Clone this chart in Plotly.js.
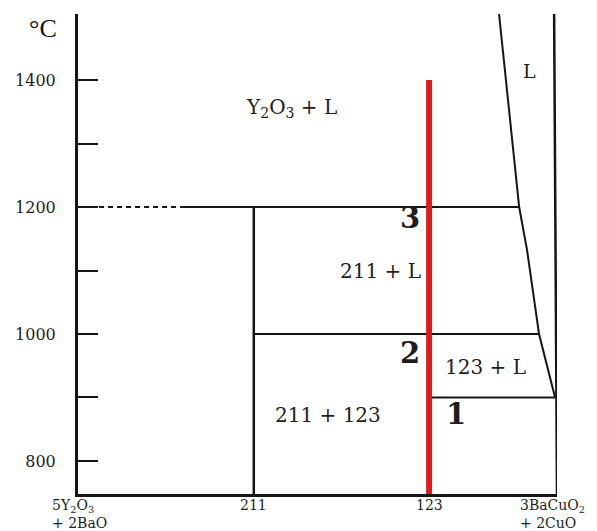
<!DOCTYPE html>
<html>
<head>
<meta charset="utf-8">
<script src="https://cdn.plot.ly/plotly-3.0.1.min.js"></script>
<style>
  html, body { margin: 0; padding: 0; background: #fff; }
  #chart { width: 597px; height: 531px; }
</style>
</head>
<body>
<div id="chart"></div>
<script>
// Temperature axis (°C)
const tempTicks = [800, 900, 1000, 1100, 1200, 1300, 1400];
const tempLabels = ['800', '', '1000', '', '1200', '', '1400'];
const tempMin = 748;
const tempMax = 1504;

// Composition axis: 5Y2O3+2BaO (0) ... 3BaCuO2+2CuO (1)
const compPos = [0, 0.367, 0.733, 1.0];
const compLine1 = ['5Y<sub>2</sub>O<sub>3</sub>', '211', '123', '3BaCuO<sub>2</sub>'];
const compLine2 = ['+ 2BaO', '', '', '+ 2CuO'];

// Liquidus boundary on the CuO-rich side
const liquidusX = [0.879, 0.921, 0.9375, 0.9625, 0.996];
const liquidusT = [1504, 1200, 1132, 1000, 900];

// Invariant temperatures
const tY2O3 = 1200;      // Y2O3 + L -> 211 + L
const t211 = 1000;       // 211 + L -> 123
const t123 = 900;        // 123 + L solidus
const tDotEnd = [0.044, 0.219]; // dotted part of the 1200 isotherm

// Sample composition path (123) heated up to
const pathTop = 1400;

const black = '#151515';

function seg(x, y, extra) {
  return Object.assign({
    x: x, y: y, type: 'scatter', mode: 'lines',
    line: { color: black, width: 2 }, hoverinfo: 'skip',
    showlegend: false, cliponaxis: false
  }, extra || {});
}

const traces = [
  // 1200 isotherm: dotted then solid up to the liquidus
  seg(tDotEnd, [tY2O3, tY2O3], { line: { color: black, width: 2, dash: '5px,4px' } }),
  seg([tDotEnd[1], liquidusX[1]], [tY2O3, tY2O3]),
  // 211 composition line
  seg([compPos[1], compPos[1]], [tempMin, tY2O3], { line: { color: black, width: 2.5 } }),
  // 1000 isotherm
  seg([compPos[1], liquidusX[3]], [t211, t211]),
  // 900 isotherm
  seg([compPos[2], liquidusX[4]], [t123, t123]),
  // liquidus
  seg(liquidusX, liquidusT),
  // right-hand composition limit
  seg([compPos[3] - 0.006, compPos[3]], [tempMax, tempMin], { line: { color: black, width: 2.5 } }),
  // 123 path
  seg([compPos[2], compPos[2]], [tempMin, pathTop], { line: { color: '#d5201f', width: 6 } })
];

const serif = 'DejaVu Serif, Liberation Serif, serif';
const textColor = '#1e1e1e';

function label(text, x, y, size, bold) {
  return {
    text: bold ? '<b>' + text + '</b>' : text,
    x: x, y: y, xref: 'x', yref: 'y', showarrow: false,
    xanchor: 'center', yanchor: 'middle',
    font: { family: serif, size: size, color: textColor }
  };
}

const annotations = [
  {
    text: '°C', x: -0.073, y: 0.969, xref: 'paper', yref: 'paper', showarrow: false,
    xanchor: 'center', yanchor: 'middle',
    font: { family: 'Liberation Serif, serif', size: 26, color: '#111' }
  },
  label('Y<sub>2</sub>O<sub>3</sub> + L', 0.446, 1356, 20, false),
  label('L', 0.942, 1414, 19, false),
  label('3', 0.694, 1183, 29, true),
  label('211 + L', 0.631, 1099, 20, false),
  label('2', 0.694, 970, 29, true),
  label('123 + L', 0.85, 948, 20, false),
  label('211 + 123', 0.521, 872, 20, false),
  label('1', 0.79, 874, 29, true)
];

// Composition labels under the axis (one or two lines each)
const compShift = [-28, 0, 0, -39];
compPos.forEach(function (x, i) {
  const twoLines = compLine2[i] !== '';
  annotations.push({
    text: twoLines ? compLine1[i] + '<br>' + compLine2[i] : compLine1[i],
    x: x, y: tempMin, xref: 'x', yref: 'y', showarrow: false,
    xanchor: twoLines ? 'left' : 'center', yanchor: 'top', align: 'left',
    yshift: -1, xshift: compShift[i],
    font: { family: serif, size: 14, color: textColor }
  });
});

const layout = {
  width: 597, height: 531,
  margin: { l: 78, r: 40, t: 14, b: 37 },
  paper_bgcolor: '#fff', plot_bgcolor: '#fff',
  showlegend: false,
  xaxis: {
    range: [0, 1], showgrid: false, zeroline: false,
    showline: true, linecolor: black, linewidth: 3,
    showticklabels: false, ticks: '', fixedrange: true
  },
  yaxis: {
    range: [tempMin, tempMax], showgrid: false, zeroline: false,
    showline: true, linecolor: black, linewidth: 3,
    tickmode: 'array', tickvals: tempTicks, ticktext: tempLabels,
    ticks: 'inside', ticklen: 20, tickwidth: 2, tickcolor: black,
    ticklabelstandoff: 16,
    tickfont: { family: serif, size: 16, color: '#222' },
    fixedrange: true
  },
  annotations: annotations
};

Plotly.newPlot('chart', traces, layout, { displayModeBar: false, staticPlot: true });
</script>
</body>
</html>
